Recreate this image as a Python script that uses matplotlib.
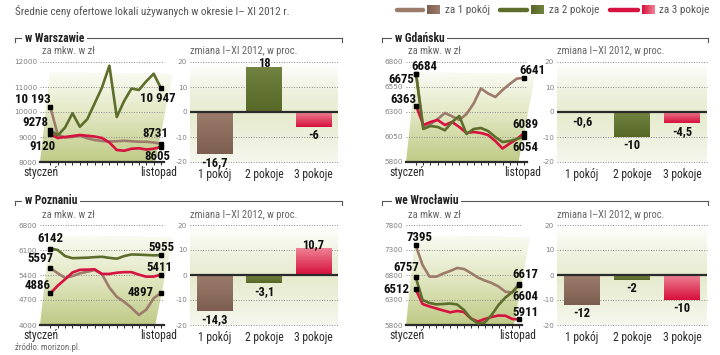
import numpy as np
import matplotlib
matplotlib.use("Agg")
import matplotlib.pyplot as plt
from matplotlib import font_manager
from matplotlib.patches import Polygon
from matplotlib.colors import to_rgb

# ------------------------------------------------------------------ data
TITLE = "Średnie ceny ofertowe lokali używanych w okresie I– XI 2012 r."
SOURCE = "źródło: morizon.pl."
SERIES_NAMES = ["za 1 pokój", "za 2 pokoje", "za 3 pokoje"]
BAR_CATEGORIES = ["1 pokój", "2 pokoje", "3 pokoje"]
PERIOD_LABELS = ["styczeń", "listopad"]
LINE_SUBTITLE = "za mkw. w zł"
BAR_SUBTITLE = "zmiana I–XI 2012, w proc."
CITIES = ["w Warszawie", "w Gdańsku", "w Poznaniu", "we Wrocławiu"]

change_ticks = [-20, -10, 0, 10, 20]

warszawa_ticks = [8000, 9000, 10000, 11000, 12000]
warszawa_1 = [10193, 9100, 8980, 9000, 9050, 8950, 8880, 8840, 8820, 8830, 8850, 8830, 8810, 8810, 8780, 8731]
warszawa_2 = [9278, 9060, 9380, 9950, 9410, 9710, 10340, 10980, 11850, 9800, 10440, 10940, 10880, 11230, 11530, 10947]
warszawa_3 = [9120, 8960, 9000, 9040, 9080, 9050, 9020, 8960, 8780, 8480, 8450, 8530, 8550, 8500, 8530, 8605]
warszawa_change = [-16.7, 18, -6]

gdansk_ticks = [5800, 6050, 6300, 6550, 6800]
gdansk_1 = [6684, 6140, 6180, 6230, 6290, 6257, 6220, 6280, 6385, 6535, 6485, 6450, 6520, 6580, 6634, 6641]
gdansk_2 = [6675, 6130, 6160, 6150, 6117, 6200, 6260, 6080, 6130, 6140, 6110, 6050, 6000, 6010, 6030, 6054]
gdansk_3 = [6363, 6170, 6200, 6220, 6170, 6200, 6150, 6090, 6100, 6090, 6070, 6010, 5935, 5985, 6030, 6089]
gdansk_change = [-0.6, -10, -4.5]

poznan_ticks = [4000, 4700, 5400, 6100, 6800]
poznan_1 = [5597, 5450, 5320, 5370, 5447, 5490, 5540, 5420, 5050, 4790, 4650, 4480, 4280, 4430, 4750, 4897]
poznan_2 = [6142, 6100, 5930, 5870, 5878, 5885, 5900, 5910, 5880, 5855, 5930, 5975, 5970, 5960, 5950, 5955]
poznan_3 = [4886, 5100, 5280, 5470, 5545, 5550, 5560, 5430, 5430, 5464, 5480, 5480, 5410, 5353, 5355, 5411]
poznan_change = [-14.3, -3.1, 10.7]

wroclaw_ticks = [5800, 6300, 6800, 7300, 7800]
wroclaw_1 = [7395, 7000, 6767, 6767, 6830, 6880, 6940, 6920, 6840, 6750, 6690, 6640, 6570, 6465, 6450, 6604]
wroclaw_2 = [6757, 6300, 6240, 6213, 6220, 6230, 6210, 6100, 5930, 5830, 5850, 6000, 6200, 6350, 6460, 6617]
wroclaw_3 = [6512, 6220, 6170, 6130, 6090, 6053, 6080, 6060, 5930, 5870, 5920, 5960, 5990, 5985, 5920, 5911]
wroclaw_change = [-12, -2, -10]

# ------------------------------------------------------------------ style
names = {f.name for f in font_manager.fontManager.ttflist}
NARROW = next((n for n in ["Liberation Sans Narrow", "Roboto Condensed", "Open Sans Condensed"]
               if n in names), "DejaVu Sans")
plt.rcParams["font.family"] = [NARROW, "DejaVu Sans"]

LINE_COLORS = ["#9c7b6b", "#5d6d2b", "#d6123f"]
BAR_TOP = ["#9c7c6c", "#728240", "#ee8294"]
BAR_BOT = ["#7c5e50", "#576726", "#d60f3b"]
DARK = "#2a2a2a"

W, H = 720, 355
fig = plt.figure(figsize=(W / 100, H / 100), dpi=100)
fig.patch.set_facecolor("white")


def frac_rect(l, t, r, b):
    return [l / W, 1 - b / H, (r - l) / W, (b - t) / H]


overlay = fig.add_axes([0, 0, 1, 1])
overlay.axis("off")


def grad(stops, n=128, horizontal=False):
    pos = np.linspace(0, 1, n)
    ps = [s[0] for s in stops]
    cols = np.array([to_rgb(s[1]) for s in stops])
    arr = np.stack([np.interp(pos, ps, cols[:, k]) for k in range(3)], axis=-1)
    if horizontal:
        return arr[None, :, :]
    return arr[:, None, :]


def grad_rect(x0, x1, ytop, ybot, stops, horizontal=False, clip=None, z=0):
    im = overlay.imshow(grad(stops, horizontal=horizontal), extent=(x0, x1, ybot, ytop),
                        origin="upper", aspect="auto", interpolation="bilinear", zorder=z)
    if clip is not None:
        poly = Polygon(clip, closed=True, transform=overlay.transData)
        im.set_clip_path(poly)
    return im


def fmt_price(v):
    return f"{v:,}".replace(",", " ") if v >= 10000 else str(v)


def fmt_pct(v):
    return f"{v:g}".replace(".", ",")


# ------------------------------------------------------------------ title / legend / source
overlay.text(15, 11, TITLE, fontsize=8, color="#555555", va="center", ha="left")
overlay.text(15, 348, SOURCE, fontsize=6.3, color="#666666", va="center", ha="left")

legend_pos = [(397, 423, 427, 440, 445), (500, 527, 531, 544, 549), (610, 638, 642, 655, 659)]
for k, (lx0, lx1, sx0, sx1, tx) in enumerate(legend_pos):
    overlay.plot([lx0, lx1], [10, 10], color=LINE_COLORS[k], lw=3.2, solid_capstyle="round")
    grad_rect(sx0, sx1, 5.5, 14.5, [(0, BAR_BOT[k]), (1, BAR_TOP[k])], horizontal=True)
    overlay.text(tx, 10, SERIES_NAMES[k], fontsize=8, color="#555555", va="center", ha="left")

# ------------------------------------------------------------------ panels
WAW_ANN = [(0, "start", 0, 8, "right"), (1, "start", -2, 8, "right"), (2, "start", 5, -12, "right"),
           (1, "end", -3, -10, "center"), (0, "end", -6, 10, "center"), (2, "end", -4, -10, "center")]
GDA_ANN = [(0, "start", 8, 7, "center"), (1, "start", -2, -5, "right"), (2, "start", 0, 6, "right"),
           (0, "end", 8, 7, "center"), (2, "end", 1, 9, "center"), (1, "end", 1, -11, "center")]
POZ_ANN = [(1, "start", 0, 10, "center"), (0, "start", 3, 9, "right"), (2, "start", 0, 8, "right"),
           (1, "end", 0, 8, "center"), (2, "end", -2, 7, "center"), (0, "end", -7, 0, "right")]
WRO_ANN = [(0, "start", 4, 8, "center"), (1, "start", 3, 10, "right"), (2, "start", -6, 0, "right"),
           (1, "end", 6, 10, "center"), (0, "end", 6, -12, "center"), (2, "end", 6, 7, "center")]

PANELS = [
    dict(name=CITIES[0], series=[warszawa_1, warszawa_2, warszawa_3], ticks=warszawa_ticks,
         change=warszawa_change, ann=WAW_ANN, col=0, row=0),
    dict(name=CITIES[1], series=[gdansk_1, gdansk_2, gdansk_3], ticks=gdansk_ticks,
         change=gdansk_change, ann=GDA_ANN, col=1, row=0),
    dict(name=CITIES[2], series=[poznan_1, poznan_2, poznan_3], ticks=poznan_ticks,
         change=poznan_change, ann=POZ_ANN, col=0, row=1),
    dict(name=CITIES[3], series=[wroclaw_1, wroclaw_2, wroclaw_3], ticks=wroclaw_ticks,
         change=wroclaw_change, ann=WRO_ANN, col=1, row=1),
]

COLS = [dict(b0=15, b1=342, tx=25, l0=40, l1=164, s0=42, c0=190, c1=338),
        dict(b0=382, b1=708, tx=395, l0=406, l1=527, s0=408, c0=557, c1=707)]
ROWS = [dict(hy=38, sy=51, top=62, bot=162), dict(hy=201, sy=215, top=225, bot=325)]

for p in PANELS:
    C, R = COLS[p["col"]], ROWS[p["row"]]
    top, bot = R["top"], R["bot"]
    hgt = bot - top
    l1 = 522 if p["name"] == CITIES[3] else C["l1"]

    # header bracket
    hy = R["hy"]
    overlay.plot([C["b0"], C["b1"]], [hy, hy], color="#555555", lw=0.8, zorder=1)
    overlay.plot([C["b0"], C["b0"]], [hy, hy + 4], color="#555555", lw=0.8, zorder=1)
    overlay.plot([C["b1"], C["b1"]], [hy, hy + 4], color="#555555", lw=0.8, zorder=1)
    overlay.text(C["tx"], hy, p["name"], fontsize=8.3, fontweight="bold", color="#222222",
                 va="center", ha="left", zorder=2,
                 bbox=dict(facecolor="white", edgecolor="none", pad=2))
    overlay.text(C["s0"], R["sy"], LINE_SUBTITLE, fontsize=7.6, color="#666666", va="center")
    overlay.text(C["c0"], R["sy"], BAR_SUBTITLE, fontsize=7.6, color="#666666", va="center")

    # line panel background (slanted plane)
    l0 = C["l0"]
    wid = l1 - l0
    clip = [(l0, bot), (l0 + 0.93 * wid, bot), (l0 + 1.07 * wid, top + 0.12 * hgt),
            (l0 + 0.08 * wid, top + 0.10 * hgt)]
    grad_rect(l0, l0 + 1.1 * wid, top + 0.08 * hgt, bot,
              [(0, "#fbfcf6"), (0.45, "#e4e9c6"), (1, "#bfca86")], clip=clip)
    # bar panel background
    grad_rect(C["c0"], C["c1"], top, bot,
              [(0, "#ffffff"), (0.3, "#eef1de"), (0.55, "#e6ebcf"), (1, "#f6f7ee")])

    # ---- line chart
    ax = fig.add_axes(frac_rect(l0, top, l1, bot))
    ax.patch.set_alpha(0)
    x = np.arange(len(p["series"][0]))
    for idx in [0, 2, 1]:
        ax.plot(x, p["series"][idx], color=LINE_COLORS[idx], lw=1.9, zorder=3, clip_on=False)
    ax.set_xlim(-1.4, 15.4)
    ax.set_ylim(p["ticks"][0], p["ticks"][-1])
    ax.set_yticks(p["ticks"])
    ax.set_yticklabels([str(t) for t in p["ticks"]], fontfamily="DejaVu Sans")
    ax.set_xticks(x)
    ax.tick_params(axis="x", length=2.5, width=0.7, color=DARK, labelbottom=False, direction="out")
    ax.tick_params(axis="y", length=0, labelsize=5.2, labelcolor="#808080", pad=2)
    for s in ["top", "right", "left"]:
        ax.spines[s].set_visible(False)
    ax.spines["bottom"].set_color(DARK)
    ax.spines["bottom"].set_linewidth(1.6)
    for t in p["ticks"][1:]:
        ax.axhline(t, color="#8a8a8a", lw=0.7, ls=(0, (1, 1.6)), zorder=1, clip_on=False)
    ax.text(0.01, -0.10, PERIOD_LABELS[0], transform=ax.transAxes, ha="center", va="center",
            fontsize=8.4, color=DARK)
    ax.text(0.96, -0.10, PERIOD_LABELS[1], transform=ax.transAxes, ha="center", va="center",
            fontsize=8.4, color=DARK)
    for idx, side, dx, dy, ha in p["ann"]:
        xi = x[0] if side == "start" else x[-1]
        v = p["series"][idx][0] if side == "start" else p["series"][idx][-1]
        ax.plot([xi], [v], marker="s", ms=2.8, color="black", zorder=6, clip_on=False)
        ax.annotate(fmt_price(v), xy=(xi, v), xytext=(dx * 0.72, dy * 0.72),
                    textcoords="offset points", ha=ha, va="center", fontsize=9.3,
                    fontweight="bold", color="#111111", annotation_clip=False, zorder=7)

    # ---- bar chart
    bx = fig.add_axes(frac_rect(C["c0"], top, C["c1"], bot))
    bx.patch.set_alpha(0)
    bw = 0.72
    for i, v in enumerate(p["change"]):
        y0, y1 = min(0, v), max(0, v)
        bx.imshow(grad([(0, BAR_TOP[i]), (1, BAR_BOT[i])]), extent=(i - bw / 2, i + bw / 2, y0, y1),
                  origin="upper", aspect="auto", interpolation="bilinear", zorder=2)
        if v >= 0:
            bx.annotate(fmt_pct(v), xy=(i, v), xytext=(0, -2), textcoords="offset points",
                        ha="center", va="bottom", fontsize=9, fontweight="bold",
                        color="#111111", annotation_clip=False, zorder=5)
        else:
            bx.annotate(fmt_pct(v), xy=(i, v), xytext=(0, -1.5), textcoords="offset points",
                        ha="center", va="top", fontsize=9, fontweight="bold",
                        color="#111111", annotation_clip=False, zorder=5)
    bx.set_xlim(-0.5, 2.5)
    bx.set_ylim(change_ticks[0], change_ticks[-1])
    bx.set_yticks(change_ticks)
    bx.set_yticklabels([str(t) for t in change_ticks], fontfamily="DejaVu Sans")
    bx.set_xticks(range(len(BAR_CATEGORIES)))
    bx.set_xticklabels(BAR_CATEGORIES)
    bx.tick_params(axis="x", length=0, labelsize=8.4, labelcolor=DARK, pad=4.5)
    bx.tick_params(axis="y", length=0, labelsize=5.2, labelcolor="#808080", pad=2)
    for s in bx.spines.values():
        s.set_visible(False)
    for t in change_ticks:
        if t == 0:
            bx.axhline(0, color=DARK, lw=1.6, zorder=3)
        else:
            bx.axhline(t, color="#8a8a8a", lw=0.7, ls=(0, (1, 1.6)), zorder=1, clip_on=False)

overlay.set_xlim(0, W)
overlay.set_ylim(H, 0)

fig.savefig("out.png", dpi=100, facecolor="white")
